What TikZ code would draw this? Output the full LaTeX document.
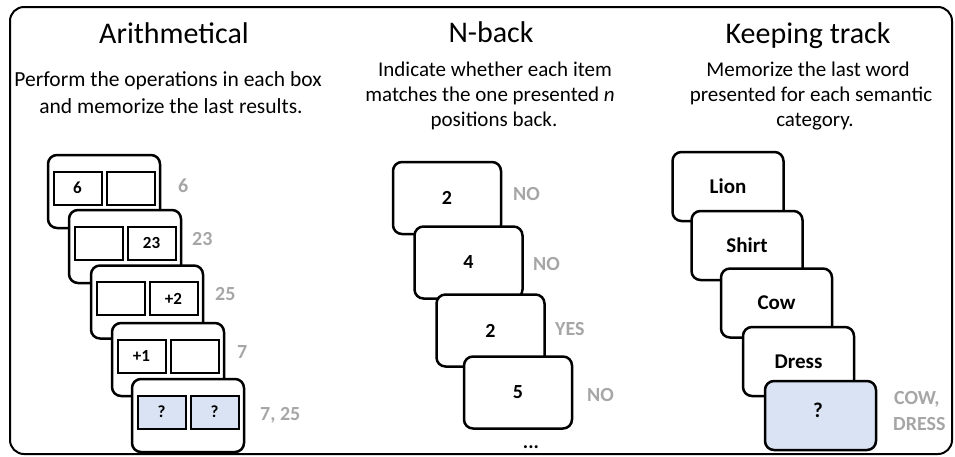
\documentclass[tikz,border=0pt]{standalone}
\usepackage{fontspec}
\setmainfont{Carlito}
\definecolor{lblgray}{HTML}{A6A6A6}
\definecolor{qfill}{HTML}{DAE3F3}
\begin{document}
\begin{tikzpicture}[x=1pt,y=-1pt,
  card/.style={draw, rounded corners=9pt, line width=2.5pt, fill=white, inner sep=0pt},
  acard/.style={card, minimum width=112pt, minimum height=73pt},
  ncard/.style={card, minimum width=108pt, minimum height=72pt, font=\fontsize{20}{20}\selectfont\bfseries},
  kcard/.style={card, minimum width=111pt, minimum height=69pt, font=\fontsize{21}{21}\selectfont\bfseries},
  ibox/.style={draw, line width=2pt, fill=white, minimum width=48pt, minimum height=33pt, inner sep=0pt, font=\fontsize{17}{17}\selectfont\bfseries},
  lbl/.style={anchor=base west, inner sep=0pt, text=lblgray, font=\fontsize{20}{20}\selectfont\bfseries},
  ttl/.style={anchor=base, inner sep=0pt, font=\fontsize{30}{30}\selectfont},
  dsc/.style={anchor=base, inner sep=0pt, font=\fontsize{21}{21}\selectfont},
  adsc/.style={anchor=base, inner sep=0pt, font=\fontsize{21.5}{21.5}\selectfont},
]
\useasboundingbox (0,0) rectangle (955,456);
\draw[line width=2pt, rounded corners=14pt] (10,7) rectangle (952,454);

% titles
\node[ttl] (t1) at (174,43) {Arithmetical};
\node[ttl] (t2) at (491,42) {N-back};
\node[ttl] (t3) at (808,43) {Keeping track};

% descriptions
\node[adsc] (d11) at (168,86) {Perform the operations in each box};
\node[adsc] (d12) at (171,113) {and memorize the last results.};
\node[dsc] (d21) at (495,76) {Indicate whether each item};
\node[dsc] (d22) at (490,101) {matches the one presented \textit{n}};
\node[dsc] (d23) at (494,126) {positions back.};
\node[dsc] (d31) at (808,76) {Memorize the last word};
\node[dsc] (d32) at (811,101) {presented for each semantic};
\node[dsc] (d33) at (815,126) {category.};

% Arithmetical cards
\node[acard] (a1) at (104,191.5) {};
\node[ibox] (a1l) at ([xshift=-26.5pt,yshift=3.5pt]a1.center) {6};
\node[ibox] (a1r) at ([xshift=26.5pt,yshift=3.5pt]a1.center) {};
\node[acard] (a2) at (125,246.5) {};
\node[ibox] (a2l) at ([xshift=-26.5pt,yshift=3.5pt]a2.center) {};
\node[ibox] (a2r) at ([xshift=26.5pt,yshift=3.5pt]a2.center) {23};
\node[acard] (a3) at (147,302) {};
\node[ibox] (a3l) at ([xshift=-26.5pt,yshift=3.5pt]a3.center) {};
\node[ibox] (a3r) at ([xshift=26.5pt,yshift=3.5pt]a3.center) {+2};
\node[acard] (a4) at (168,359.5) {};
\node[ibox] (a4l) at ([xshift=-26.5pt,yshift=3.5pt]a4.center) {+1};
\node[ibox] (a4r) at ([xshift=26.5pt,yshift=3.5pt]a4.center) {};
\node[acard] (a5) at (188,415.5) {};
\node[ibox, fill=qfill] (a5l) at ([xshift=-26.5pt,yshift=3.5pt]a5.center) {?};
\node[ibox, fill=qfill] (a5r) at ([xshift=26.5pt,yshift=3.5pt]a5.center) {?};

\node[lbl] (al1) at (178,192) {6};
\node[lbl] (al2) at (192,245) {23};
\node[lbl] (al3) at (215,300) {25};
\node[lbl] (al4) at (237,358) {7};
\node[lbl] (al5) at (260,420) {7, 25};

% N-back cards
\node[ncard] (n1) at (447,198) {2};
\node[ncard] (n2) at (468.5,262.5) {4};
\node[ncard] (n3) at (490.5,330.5) {2};
\node[ncard] (n4) at (518,392.5) {5};
\node[lbl] (nl1) at (513,200) {NO};
\node[lbl] (nl2) at (533,270) {NO};
\node[lbl] (nl3) at (555,335) {YES};
\node[lbl] (nl4) at (587,401) {NO};
\node[anchor=base, inner sep=0pt, font=\fontsize{20}{20}\selectfont\bfseries] (ndots) at (531,448) {...};

% Keeping track cards
\node[kcard] (k1) at (728,186.5) {Lion};
\node[kcard] (k2) at (747,245.5) {Shirt};
\node[kcard] (k3) at (776.5,303) {Cow};
\node[kcard] (k4) at (798.5,361.5) {Dress};
\node[kcard, fill=qfill] (k5) at (820.5,415.5) {};
\node[inner sep=0pt, font=\fontsize{21}{21}\selectfont\bfseries] (k5t) at (818,410) {?};
\node[lbl] (kl1) at (894,404) {COW,};
\node[lbl] (kl2) at (893,430) {DRESS};
\end{tikzpicture}
\end{document}
